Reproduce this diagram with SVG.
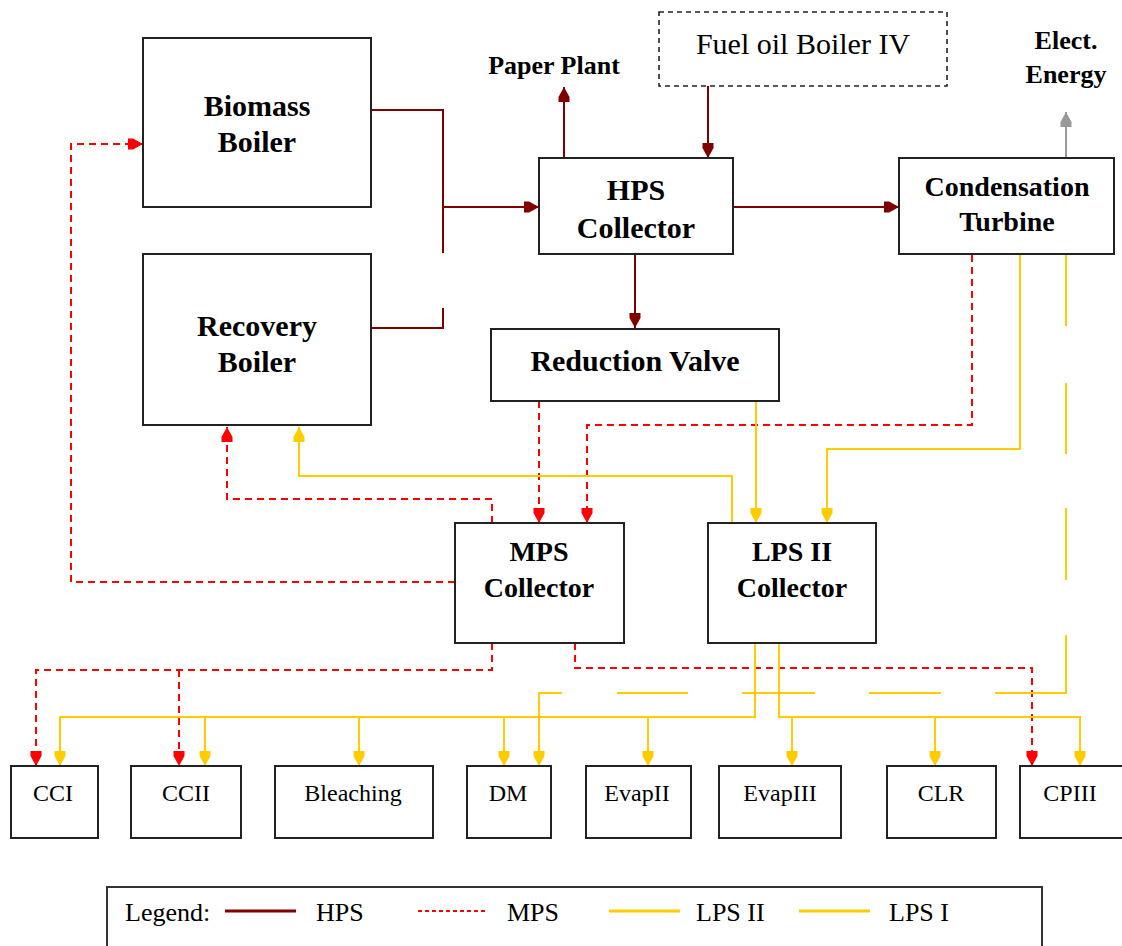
<svg xmlns="http://www.w3.org/2000/svg" width="1122" height="946" viewBox="0 0 1122 946">
  <style>
    .box { fill: #ffffff; stroke: #222222; stroke-width: 2; }
    .dbox { fill: #ffffff; stroke: #222222; stroke-width: 1.6; stroke-dasharray: 5 4; }
    .lbl { font-family: "Liberation Serif", "Times New Roman", serif; font-weight: bold; fill: #000; text-anchor: middle; }
    .big { font-size: 30px; }
    .mid { font-size: 28px; }
    .reg { font-family: "Liberation Serif", "Times New Roman", serif; fill: #000; text-anchor: middle; }
    .small { font-size: 24px; }
    .key { font-family: "Liberation Serif", "Times New Roman", serif; font-size: 26px; fill: #000; text-anchor: start; }
    .hps { fill: none; stroke: #800000; stroke-width: 2; }
    .mps { fill: none; stroke: #ff0000; stroke-width: 2; stroke-dasharray: 7 5; }
    .lps { fill: none; stroke: #ffcc00; stroke-width: 2; }
    .lps1 { fill: none; stroke: #ffcc00; stroke-width: 2; stroke-dasharray: 71 57 71 54 72 55 129 54 72 54 73 54 71 55 96; }
    .elec { fill: none; stroke: #999999; stroke-width: 2; }
  </style>
  <defs>
    <marker id="ah-hps" markerUnits="userSpaceOnUse" viewBox="0 -6 15 12" markerWidth="15" markerHeight="12" refX="15" refY="0" orient="auto">
      <path d="M0,-5.5 H5 L15,0 L5,5.5 H0 Z" fill="#800000" stroke="none"/>
    </marker>
    <marker id="ah-mps" markerUnits="userSpaceOnUse" viewBox="0 -6 15 12" markerWidth="15" markerHeight="12" refX="15" refY="0" orient="auto">
      <path d="M0,-5.5 H5 L15,0 L5,5.5 H0 Z" fill="#ff0000" stroke="none"/>
    </marker>
    <marker id="ah-lps" markerUnits="userSpaceOnUse" viewBox="0 -6 15 12" markerWidth="15" markerHeight="12" refX="15" refY="0" orient="auto">
      <path d="M0,-5.5 H5 L15,0 L5,5.5 H0 Z" fill="#ffcc00" stroke="none"/>
    </marker>
    <marker id="ah-elec" markerUnits="userSpaceOnUse" viewBox="0 -6 15 12" markerWidth="15" markerHeight="12" refX="15" refY="0" orient="auto">
      <path d="M0,-5.5 H5 L15,0 L5,5.5 H0 Z" fill="#999999" stroke="none"/>
    </marker>
  </defs>

  <rect width="1122" height="946" fill="#ffffff"/>

  <!-- steam lines -->
  <g id="connectors">
    <!-- high pressure steam -->
    <path class="hps" d="M371,110 H443 V253"/>
    <path class="hps" d="M371,328 H443 V308"/>
    <path class="hps" d="M443,207 H539" marker-end="url(#ah-hps)"/>
    <path class="hps" d="M564,158 V87" marker-end="url(#ah-hps)"/>
    <path class="hps" d="M708,86 V158" marker-end="url(#ah-hps)"/>
    <path class="hps" d="M733,207 H899" marker-end="url(#ah-hps)"/>
    <path class="hps" d="M635,255 V328" marker-end="url(#ah-hps)"/>
    <path class="elec" d="M1066,158 V112" marker-end="url(#ah-elec)"/>

    <!-- medium pressure steam -->
    <path class="mps" d="M539,401 V523" marker-end="url(#ah-mps)"/>
    <path class="mps" d="M972,255 V425 H587 V523" marker-end="url(#ah-mps)"/>
    <path class="mps" d="M492,523 V499 H227 V427" marker-end="url(#ah-mps)"/>
    <path class="mps" d="M455,582 H71 V144 H143" marker-end="url(#ah-mps)"/>
    <path class="mps" d="M492,643 V670 H36 V766" marker-end="url(#ah-mps)"/>
    <path class="mps" d="M179,670 V766" marker-end="url(#ah-mps)"/>
    <path class="mps" d="M575,643 V668 H1032 V766" marker-end="url(#ah-mps)"/>

    <!-- low pressure steam II -->
    <path class="lps" d="M756,401 V523" marker-end="url(#ah-lps)"/>
    <path class="lps" d="M1020,255 V449 H827 V523" marker-end="url(#ah-lps)"/>
    <path class="lps" d="M732,523 V476 H299 V427" marker-end="url(#ah-lps)"/>
    <path class="lps" d="M755,643 V717 H60 V766" marker-end="url(#ah-lps)"/>
    <path class="lps" d="M205,717 V766" marker-end="url(#ah-lps)"/>
    <path class="lps" d="M359,717 V766" marker-end="url(#ah-lps)"/>
    <path class="lps" d="M504,717 V766" marker-end="url(#ah-lps)"/>
    <path class="lps" d="M648,717 V766" marker-end="url(#ah-lps)"/>
    <path class="lps" d="M779,643 V717 H1080 V766" marker-end="url(#ah-lps)"/>
    <path class="lps" d="M792,717 V766" marker-end="url(#ah-lps)"/>
    <path class="lps" d="M935,717 V766" marker-end="url(#ah-lps)"/>

    <!-- low pressure steam I -->
    <path class="lps1" d="M1066,255 V693 H539 V766" marker-end="url(#ah-lps)"/>
  </g>

  <g id="biomass-boiler">
    <rect class="box" x="143" y="38" width="228" height="169"/>
    <text class="lbl big" x="257" y="116">Biomass</text>
    <text class="lbl big" x="257" y="152">Boiler</text>
  </g>

  <g id="recovery-boiler">
    <rect class="box" x="143" y="254" width="228" height="171"/>
    <text class="lbl big" x="257" y="336">Recovery</text>
    <text class="lbl big" x="257" y="372">Boiler</text>
  </g>

  <g id="hps-collector">
    <rect class="box" x="539" y="158" width="194" height="96"/>
    <text class="lbl big" x="636" y="200">HPS</text>
    <text class="lbl big" x="636" y="238">Collector</text>
  </g>

  <g id="fuel-oil-boiler">
    <rect class="dbox" x="659" y="12" width="288" height="74"/>
    <text class="reg" font-size="30" x="803" y="54">Fuel oil Boiler IV</text>
  </g>

  <g id="paper-plant">
    <text class="lbl" font-size="26" x="554" y="74">Paper Plant</text>
  </g>

  <g id="elect-energy">
    <text class="lbl" font-size="26" x="1066" y="49">Elect.</text>
    <text class="lbl" font-size="26" x="1066" y="83">Energy</text>
  </g>

  <g id="condensation-turbine">
    <rect class="box" x="899" y="158" width="215" height="96"/>
    <text class="lbl mid" x="1007" y="196">Condensation</text>
    <text class="lbl mid" x="1007" y="231">Turbine</text>
  </g>

  <g id="reduction-valve">
    <rect class="box" x="491" y="329" width="288" height="72"/>
    <text class="lbl big" x="635" y="371">Reduction Valve</text>
  </g>

  <g id="mps-collector">
    <rect class="box" x="455" y="523" width="169" height="120"/>
    <text class="lbl mid" x="539" y="561">MPS</text>
    <text class="lbl mid" x="539" y="597">Collector</text>
  </g>

  <g id="lps2-collector">
    <rect class="box" x="708" y="523" width="168" height="120"/>
    <text class="lbl mid" x="792" y="561">LPS II</text>
    <text class="lbl mid" x="792" y="597">Collector</text>
  </g>

  <g id="cci">
    <rect class="box" x="11" y="766" width="87" height="72"/>
    <text class="reg small" x="53" y="801">CCI</text>
  </g>
  <g id="ccii">
    <rect class="box" x="131" y="766" width="110" height="72"/>
    <text class="reg small" x="186" y="801">CCII</text>
  </g>
  <g id="bleaching">
    <rect class="box" x="275" y="766" width="158" height="72"/>
    <text class="reg small" x="353" y="801">Bleaching</text>
  </g>
  <g id="dm">
    <rect class="box" x="467" y="766" width="84" height="72"/>
    <text class="reg small" x="508" y="801">DM</text>
  </g>
  <g id="evap2">
    <rect class="box" x="586" y="766" width="105" height="72"/>
    <text class="reg small" x="637" y="801">EvapII</text>
  </g>
  <g id="evap3">
    <rect class="box" x="719" y="766" width="122" height="72"/>
    <text class="reg small" x="780" y="801">EvapIII</text>
  </g>
  <g id="clr">
    <rect class="box" x="887" y="766" width="109" height="72"/>
    <text class="reg small" x="941" y="801">CLR</text>
  </g>
  <g id="cpiii">
    <rect class="box" x="1020" y="766" width="106" height="72"/>
    <text class="reg small" x="1070" y="801">CPIII</text>
  </g>

  <g id="legend">
    <rect x="107" y="887" width="935" height="70" fill="#ffffff" stroke="#333333" stroke-width="2"/>
    <text class="key" x="125" y="921">Legend:</text>
    <line x1="225" y1="911" x2="296" y2="911" stroke="#800000" stroke-width="3"/>
    <text class="key" x="316" y="921">HPS</text>
    <line x1="418" y1="911" x2="486" y2="911" stroke="#ff0000" stroke-width="2" stroke-dasharray="4 3"/>
    <text class="key" x="507" y="921">MPS</text>
    <line x1="609" y1="911" x2="680" y2="911" stroke="#ffcc00" stroke-width="3"/>
    <text class="key" x="696" y="921">LPS II</text>
    <line x1="799" y1="911" x2="870" y2="911" stroke="#ffcc00" stroke-width="3"/>
    <text class="key" x="889" y="921">LPS I</text>
  </g>
</svg>
